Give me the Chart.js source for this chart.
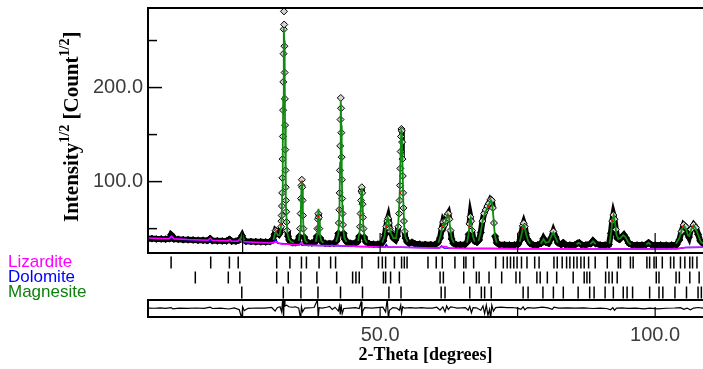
<!DOCTYPE html>
<html>
<head>
<meta charset="utf-8">
<script src="https://cdn.jsdelivr.net/npm/chart.js@4.4.1/dist/chart.umd.min.js"></script>
<style>
  body { margin:0; background:#fff; }
  #wrap { position:relative; width:703px; height:369px; overflow:hidden; background:#fff; }
  canvas { position:absolute; left:0; }
</style>
</head>
<body>
<div id="wrap">
  <canvas id="main" width="703" height="256" style="top:0px"></canvas>
  <canvas id="refl" width="703" height="47" style="top:253px"></canvas>
  <canvas id="diff" width="703" height="70" style="top:299px"></canvas>
</div>
<script>
// Rietveld plot: observed / calculated profiles, phase reflections, difference
const X_MIN = 7.8, X_MAX = 108.7;

// observed sqrt(intensity) [2theta, value]
const obsPoints = [
  [7.8,39.2],[8.5,39.4],[9.3,39],[10.2,39.1],[11,38.8],[11.7,39.3],[12,43.5],[12.2,42.5],[12.5,38.9],[13.3,38.6],
  [14.2,38.3],[15.1,38.2],[16,38],[16.9,37.6],[17.8,37.6],[18.6,37.3],[19.1,39.4],[19.5,37.2],[20.4,37],[21.3,36.8],
  [22.1,36.9],[22.6,38.6],[23,36.7],[23.8,36.7],[24.3,37.6],[24.6,39.2],[24.9,42.5],[25.2,38.3],[25.6,36.5],[26.5,36.3],
  [27.4,36.1],[28.3,36],[29.2,35.9],[30,36.2],[30.5,38.5],[30.8,44],[31,48],[31.2,47],[31.4,45],[31.6,44],[31.8,46],[32,52],
  [32.05,58],[32.1,64],[32.15,74],[32.2,88],[32.24,104],[32.28,124],[32.32,148],[32.36,176],[32.4,206],[32.44,236],
  [32.48,262],[32.52,281],[32.56,267],[32.6,244],[32.64,216],[32.68,188],[32.72,160],[32.76,134],[32.8,112],[32.84,94],
  [32.88,80],[32.93,68],[33,57],[33.1,48],[33.25,42],[33.45,38],[33.7,36],[34.1,35],[34.6,35],[35,36.5],[35.3,42],
  [35.45,50],[35.55,66],[35.62,82],[35.7,96],[35.77,102],[35.84,94],[35.9,80],[35.97,64],[36.05,50],[36.2,41],[36.5,36],
  [37,35],[37.6,34.8],[38.2,36],[38.5,42],[38.6,50],[38.7,60],[38.78,66],[38.86,62],[38.95,50],[39.1,40],[39.4,36],
  [40,34.5],[40.8,34.3],[41.6,34.5],[42.1,37],[42.4,45],[42.5,56],[42.58,70],[42.64,88],[42.7,112],[42.75,138],[42.8,166],
  [42.85,189],[42.9,178],[42.95,152],[43,126],[43.05,102],[43.1,82],[43.16,66],[43.24,54],[43.35,45],[43.55,39],[43.9,36],
  [44.6,34.5],[45.4,34.5],[45.9,36],[46.2,42],[46.35,52],[46.45,66],[46.53,80],[46.6,90],[46.67,94],[46.74,88],[46.8,76],
  [46.88,62],[46.97,50],[47.1,41],[47.4,36],[48,34],[48.8,33.5],[49.6,33.5],[50.2,34],[50.6,37],[50.9,44],[51.1,52],
  [51.3,58],[51.45,61],[51.6,56],[51.75,50],[51.9,47],[52.1,44],[52.4,40],[52.8,38],[53.1,42],[53.3,52],
  [53.45,66],[53.55,80],[53.62,96],[53.68,114],[53.74,132],[53.8,148],[53.87,156],[53.94,154],[54,142],[54.06,124],
  [54.12,106],[54.18,88],[54.25,72],[54.33,58],[54.45,47],[54.6,40],[54.9,36],[55.3,34.5],[55.8,35.5],[56.3,34],
  [57.2,33.5],[58.2,33.2],[59.2,33],[60,33.2],[60.5,35],[60.9,40],[61.2,50],[61.45,57],[61.7,54],[61.95,58],[62.2,64],
  [62.4,66],[62.6,60],[62.8,48],[63,39],[63.3,34.5],[63.8,33],[64.6,32.8],[65.4,33],[65.9,36],[66.1,44],[66.25,55],
  [66.4,62.5],[66.55,58],[66.7,48],[66.9,40],[67.2,36.5],[67.6,35.5],[68,38],[68.3,46],[68.6,58],[68.9,66],[69.2,70],
  [69.5,74],[69.8,77],[70.1,81],[70.3,80],[70.5,72],[70.7,56],[70.9,42],[71.2,35],[71.7,33],[72.6,32.8],[73.5,32.6],
  [74.4,32.6],[75.1,33.5],[75.5,38],[75.75,46],[75.95,53],[76.1,55.7],[76.3,52],[76.5,45],[76.75,39],[77,37],[77.3,34],
  [77.8,32.8],[78.6,32.6],[79.3,34.5],[79.7,39.5],[80.1,35.5],[80.6,34.5],[81.1,40],[81.5,47],[81.9,41],[82.3,35],
  [82.9,33],[83.3,35],[83.7,33],[84.5,32.5],[85.4,32.6],[85.9,34.5],[86.2,35],[86.6,33],[87.4,32.6],[88.3,34],[88.7,37],
  [89.2,34],[90,32.6],[90.9,32.5],[91.6,33],[91.95,45],[92.2,58],[92.4,64.5],[92.6,60],[92.85,49],[93.1,40],[93.5,38.5],
  [93.9,41],[94.3,43.5],[94.7,40],[95.2,34.5],[95.8,32.8],[96.7,32.5],[97.6,32.5],[98.3,33],[98.8,35],[99.3,33],[100,32.5],
  [101,32.5],[102,32.4],[103,32.5],[103.9,33],[104.4,38],[104.8,47],[105.2,54],[105.55,52],[105.9,44],[106.15,41],
  [106.5,49],[107,54],[107.4,51],[107.8,44],[108.2,37],[108.7,34]
];

// calculated Magnesite profile, only drawn where it shows above the data band (null = gap)
const calcPoints = [
  [24.5,37.5],[24.75,41],[24.9,43.5],[25.05,41],[25.3,37.5],[25.3,null],
  [30.6,38],[30.9,45],[31.1,46],[31.4,43],[31.7,43],[31.95,50],[32.1,62],[32.2,86],[32.3,135],[32.38,190],[32.45,240],
  [32.52,263],[32.58,250],[32.65,210],[32.72,160],[32.8,112],[32.88,80],[33,58],[33.15,45],[33.4,39],[33.8,36],[34.3,35],[34.3,null],
  [35.2,37],[35.45,48],[35.6,72],[35.7,94],[35.77,101],[35.85,92],[35.95,68],[36.1,46],[36.4,37],[36.8,35],[36.8,null],
  [38.3,36],[38.55,44],[38.7,60],[38.8,71],[38.9,58],[39.05,44],[39.3,37],[39.7,35],[39.7,null],
  [42,36],[42.4,44],[42.6,66],[42.72,120],[42.8,165],[42.87,186],[42.94,160],[43.02,115],[43.12,75],[43.25,52],[43.5,40],[43.9,36],[43.9,null],
  [46,37],[46.3,48],[46.5,75],[46.62,92],[46.7,93],[46.8,78],[46.95,52],[47.2,39],[47.6,35],[47.6,null],
  [50.4,35],[50.8,42],[51.1,54],[51.35,62],[51.5,60],[51.7,50],[52,45],[52.4,40],[52.9,40],[53.3,55],[53.55,85],[53.72,130],
  [53.85,154],[53.95,152],[54.08,115],[54.22,78],[54.38,52],[54.6,41],[55,36],[55,null],
  [60.6,35],[61,43],[61.3,52],[61.5,55],[61.7,53],[62,59],[62.3,65],[62.5,63],[62.75,50],[63,40],[63.4,35],[63.4,null],
  [65.8,35],[66.1,45],[66.3,58],[66.45,61],[66.6,55],[66.85,42],[67.2,36],[67.2,null],
  [67.9,37],[68.3,47],[68.7,60],[69.1,67],[69.5,72],[69.9,77],[70.15,80],[70.35,78],[70.6,62],[70.85,43],[71.2,35],[71.2,null],
  [75.4,36],[75.8,46],[76.05,54],[76.25,53],[76.55,44],[76.9,37],[77.3,34],[77.3,null],
  [79.2,34],[79.7,39],[80.1,35],[80.7,36],[81.2,43],[81.5,46],[81.85,41],[82.3,35],[82.3,null],
  [85.7,33.5],[86.1,35],[86.5,33.5],[86.5,null],[88.2,33.5],[88.7,36.5],[89.2,33.5],[89.2,null],
  [91.7,34],[92,46],[92.25,60],[92.45,64],[92.7,56],[92.95,44],[93.3,39],[93.7,40],[94.2,43],[94.6,41],[95.1,35.5],[95.6,33],[95.6,null],
  [98.4,33],[98.8,35],[99.2,33],[99.2,null],
  [103.8,34],[104.4,40],[104.9,50],[105.25,53],[105.6,50],[105.95,43],[106.2,42],[106.6,50],[107,53.5],[107.4,50],
  [107.9,42],[108.3,36],[108.7,34]
];

// Lizardite profile (magenta) incl. background
const lizPoints = [
  [7.8,40],[10,39.6],[11.7,39.4],[12.1,42],[12.5,39.2],[15,38.4],[18.7,37.7],[19.1,39.8],[19.5,37.6],[22.4,37],[22.7,38.5],
  [23,36.9],[24.1,36.6],[24.5,38.8],[24.9,36.4],[27,35.6],[30,34.8],[31.2,35.8],[32,33.6],[35.3,32.8],[35.7,35],[36.1,32.6],
  [38.5,32.2],[42,31.8],[42.3,33],[42.6,31.7],[46,31.2],[50,30.6],[54,30.2],[58,29.6],[60.8,29.5],[61.3,31],[62,31],
  [62.6,29.2],[66,29],[70,28.8],[75,28.6],[80,28.5],[85,28.5],[90,28.4],[95,28.4],[100,28.4],[104,28.5],[105.5,30],[108.7,30.2]
];

// Dolomite profile (blue) incl. background
const dolPoints = [
  [7.8,39.6],[11.5,39.2],[11.9,41.5],[12.2,39],[21.8,36.8],[22.3,38.5],[22.7,36.6],[24.3,36.3],[24.5,37.5],[24.8,36],
  [30.6,34.8],[31,38.5],[31.4,34.5],[35.3,32.6],[35.5,34.5],[35.8,32.4],[41,31.8],[41.2,33],[41.5,31.7],[44.9,31.2],
  [45.2,32.8],[45.5,31.1],[50.9,30.6],[51.1,33],[51.4,30.5],[60.8,29.5],[61.2,31.5],[61.6,29.3],[66,29],[70,28.8],
  [75,28.6],[80,28.5],[90,28.4],[100,28.4],[104,28.5],[105.5,30],[108.7,30.2]
];

// small red markers on the peak flanks
const redPoints = [
  [31.1,47],[32,55],[35.8,100],[38.75,63],[42.6,70],[46.45,64],[51.2,52],[53.6,88],[61.3,52],[62.3,64],
  [66.2,52],[69.7,73],[75.9,50],[92.2,58],[105,52],[106.9,52]
];

// difference curve [2theta, obs-calc]
const residPoints = [
  [7.8,0.5],[9,0.3],[10,0.8],[11,0.2],[12,1],[12.3,-0.5],[13.5,0.4],[15,0.2],[16.5,0.6],[18,0.1],[19.1,1.5],[19.5,0],
  [21,0.4],[22.5,-0.6],[23.5,0.8],[24.4,-1.5],[24.85,-12],[25,2],[25.3,-2.5],[26,0.2],[27.5,0.6],[29,0.4],[30.3,1.2],
  [30.9,-3],[31.3,1],[31.8,2],[32.1,-4],[32.3,12],[32.45,-12],[32.55,12],[32.7,3],[33,4],[33.4,2],[34,1.5],[34.6,2],
  [35.2,0.5],[35.55,-12],[35.7,2],[35.9,-4],[36.3,0.5],[37,0.8],[38,1.2],[38.6,10],[38.75,-12],[38.9,1],[39.5,0.5],
  [40.3,1.5],[40.8,2.5],[41.3,-1],[41.8,1.5],[42.4,-3],[42.6,3],[42.75,-7],[42.9,5],[43.1,-6],[43.4,0],[44.5,0.5],
  [45.5,1],[46.2,0],[46.55,8],[46.7,-12],[46.85,-3],[47.2,1],[48.5,0.5],[49.5,1],[50.5,1.5],[51,-4],[51.3,12],[51.5,-12],
  [51.7,-2],[52.3,1],[53,0.5],[53.5,-2],[53.75,4],[53.9,-6],[54.1,2],[54.4,0.5],[55.5,1],[56.5,0.5],[57.5,1],[58.5,0.5],
  [59.5,0.5],[60.3,1.5],[60.9,-2],[61.4,2],[61.8,-4],[62.1,3],[62.4,-1],[62.8,2],[63.3,1.5],[64,0.5],[65.5,1],[66,-2],
  [66.3,2.5],[66.6,-5],[66.9,1],[67.5,0.8],[68.3,-2],[68.7,3],[69,-6],[69.3,4],[69.6,-8],[69.9,-1],[70.1,-12],[70.3,4],
  [70.6,-3],[71,1],[72,1.5],[73,1],[74,1.2],[75,0.5],[75.6,-1],[76,2],[76.3,-1.5],[76.8,1],[78,0.5],[79.5,1.5],[80.5,0.8],
  [81.3,-1],[81.6,1.5],[82.5,0.5],[84,0.8],[85.5,0.5],[87,0.8],[88.7,0],[90,0.5],[91.2,0],[91.9,-1.5],[92.3,1],[92.6,-2],
  [93,0.5],[94,0.8],[95,0.2],[96.5,0.5],[98,-0.5],[99,0.5],[100.5,-0.5],[102,0.3],[103.5,0.6],[104.6,1],[105.2,-1],
  [105.8,0.5],[106.4,-1.5],[107,0.5],[107.8,1.2],[108.7,0.5]
];

// reflection positions (2theta) per phase
const lizardRefl = [12.0,19.2,22.6,24.2,31.2,33.6,35.7,36.6,38.9,41.0,41.9,46.7,49.7,50.4,51.0,52.6,53.9,54.4,54.9,
  58.7,60.2,61.3,63.6,65.2,65.6,67.0,71.0,72.4,73.1,73.7,74.3,74.9,75.7,76.7,78.1,78.9,81.6,82.2,83.1,83.9,84.5,85.2,
  85.8,86.5,87.1,87.9,89.1,91.3,93.3,93.7,95.5,96.0,98.5,99.0,99.8,100.2,101.3,102.8,103.4,104.6,105.4,106.3,106.8,107.6];
const dolomiteRefl = [16.4,22.4,24.5,31.2,33.3,35.6,38.5,42.1,45.0,45.6,46.2,50.6,51.0,51.9,53.5,60.9,61.5,65.2,67.5,
  68.0,69.8,72.1,74.7,75.4,78.5,79.1,80.4,82.1,85.1,87.1,87.6,88.1,91.0,91.6,92.2,93.1,100.2,100.7,103.8,104.4,106.3,108.0];
const magnesiteRefl = [24.85,32.4,35.6,38.7,42.8,46.8,51.6,53.8,61.1,61.8,66.3,68.4,69.0,70.2,76.0,76.9,79.6,81.5,83.3,
  86.0,88.1,88.9,90.9,92.4,94.2,94.9,95.9,99.0,100.7,101.4,103.6,105.7,107.8,108.4];

const phaseNames = ['Lizardite', 'Dolomite', 'Magnesite'];
const phaseColors = ['#ff00ff', '#0000ff', '#0d800d'];

const yMajorTicks = [100, 200];
const yMinorTicks = [50, 150, 250];
const xTicks = [25, 50, 75, 100];
const xLabelTicks = [50, 100];

const toXY = arr => arr.map(p => ({ x: p[0], y: p[1] }));
const noUI = { legend: { display: false }, tooltip: { enabled: false } };

function seg(ctx, x0, y0, x1, y1){ ctx.beginPath(); ctx.moveTo(x0, y0); ctx.lineTo(x1, y1); ctx.stroke(); }
// label half-heights must not shrink the plot area
function noPad(s){ s.paddingTop = 0; s.paddingBottom = 0; }

// ---------- main profile ----------
const mainDecor = {
  id: 'mainDecor',
  afterDatasetsDraw(chart){
    const { ctx, chartArea: a, scales: { x, y } } = chart;
    ctx.save();
    ctx.strokeStyle = '#000';
    ctx.lineWidth = 1.5;
    yMajorTicks.forEach(v => { const py = y.getPixelForValue(v); seg(ctx, a.left, py, a.left + 14, py); });
    yMinorTicks.forEach(v => { const py = y.getPixelForValue(v); seg(ctx, a.left, py, a.left + 9, py); });
    ctx.lineWidth = 1.2;
    xTicks.forEach(v => { const px = x.getPixelForValue(v); seg(ctx, px, a.bottom, px, a.bottom - 20); });
    ctx.lineWidth = 2;
    ctx.beginPath();
    ctx.moveTo(a.right + 2, a.top); ctx.lineTo(a.left, a.top); ctx.lineTo(a.left, a.bottom); ctx.lineTo(a.right + 2, a.bottom);
    ctx.stroke();

    // y axis title with superscripts
    const parts = [['Intensity', false], ['1/2', true], [' [Count', false], ['1/2', true], [']', false]];
    ctx.translate(78, 222);
    ctx.rotate(-Math.PI / 2);
    ctx.fillStyle = '#000';
    ctx.textBaseline = 'alphabetic';
    let cx = 0;
    parts.forEach(([t, sup]) => {
      ctx.font = sup ? 'bold 14px "Liberation Serif"' : 'bold 21px "Liberation Serif"';
      ctx.fillText(t, cx, sup ? -9 : 0);
      cx += ctx.measureText(t).width;
    });
    ctx.restore();
  }
};

new Chart(document.getElementById('main'), {
  type: 'line',
  data: {
    datasets: [
      { // observed: thick band where flat, open diamonds on steep flanks
        data: toXY(obsPoints), order: 4,
        borderColor: '#000', borderWidth: 6,
        segment: {
          borderColor: c => {
            const dx = Math.abs(c.p1.x - c.p0.x), dy = Math.abs(c.p1.y - c.p0.y);
            return dy > 9 * Math.max(dx, 0.6) ? 'rgba(0,0,0,0)' : '#000';
          }
        },
        pointStyle: 'rectRot', pointRadius: 3.5, pointBorderWidth: 1, pointBorderColor: '#000',
        pointBackgroundColor: c => (c.raw && c.raw.y > 46 ? '#d4d4d4' : '#000')
      },
      { data: toXY(dolPoints), order: 3, borderColor: '#0000ff', borderWidth: 1.5, pointRadius: 0 },
      { data: toXY(lizPoints), order: 2, borderColor: '#ff00ff', borderWidth: 1.5, pointRadius: 0 },
      { data: toXY(calcPoints), order: 1, borderColor: '#118a11', borderWidth: 1.8, pointRadius: 0, spanGaps: false },
      { data: toXY(redPoints), order: 0, showLine: false, pointStyle: 'rect', pointRadius: 1.3,
        pointBorderWidth: 0, pointBackgroundColor: '#ff0000' }
    ]
  },
  options: {
    responsive: false, animation: false, events: [], devicePixelRatio: 1,
    layout: { autoPadding: false, padding: { top: 8, bottom: 3, left: 0, right: 0 } },
    plugins: noUI,
    scales: {
      x: { type: 'linear', min: X_MIN, max: X_MAX, display: false },
      y: {
        type: 'linear', min: 24.1, max: 284.6,
        afterBuildTicks: s => { s.ticks = yMajorTicks.map(v => ({ value: v })); },
        afterFit: s => { s.width = 148; noPad(s); },
        grid: { display: false, drawTicks: false }, border: { display: false },
        ticks: { callback: v => v.toFixed(1), padding: 5, color: '#3c3c3c',
                 font: { family: 'Liberation Sans', size: 20 } }
      }
    }
  },
  plugins: [mainDecor]
});

// ---------- reflection markers ----------
const reflSets = [lizardRefl, dolomiteRefl, magnesiteRefl];
new Chart(document.getElementById('refl'), {
  type: 'scatter',
  data: {
    datasets: reflSets.map((arr, i) => ({
      data: arr.map(t => ({ x: t, y: i + 1 })),
      pointStyle: 'line', pointRotation: 90, pointRadius: 6,
      pointBorderColor: '#000', pointBorderWidth: 1.5
    }))
  },
  options: {
    responsive: false, animation: false, events: [], devicePixelRatio: 1,
    layout: { autoPadding: false, padding: { top: 2, bottom: 0, left: 8, right: 0 } },
    plugins: noUI,
    scales: {
      x: { type: 'linear', min: X_MIN, max: X_MAX, display: false },
      y: {
        type: 'linear', min: 0.5, max: 3.5, reverse: true,
        afterBuildTicks: s => { s.ticks = [1, 2, 3].map(v => ({ value: v })); },
        afterFit: s => { s.width = 140; noPad(s); },
        grid: { display: false, drawTicks: false }, border: { display: false },
        ticks: {
          crossAlign: 'far', padding: 0, autoSkip: false,
          callback: v => phaseNames[v - 1],
          color: c => phaseColors[c.tick.value - 1],
          font: { family: 'Liberation Sans', size: 17 }
        }
      }
    }
  }
});

// ---------- difference panel + 2theta axis ----------
const diffDecor = {
  id: 'diffDecor',
  afterDatasetsDraw(chart){
    const { ctx, chartArea: a, scales: { x } } = chart;
    ctx.save();
    ctx.strokeStyle = '#000';
    ctx.lineWidth = 1.2;
    xTicks.forEach(v => { const px = x.getPixelForValue(v); seg(ctx, px, a.bottom, px, a.bottom - 10); });
    ctx.lineWidth = 2;
    ctx.beginPath();
    ctx.moveTo(a.right + 2, a.top); ctx.lineTo(a.left, a.top); ctx.lineTo(a.left, a.bottom); ctx.lineTo(a.right + 2, a.bottom);
    ctx.stroke();
    ctx.restore();
  }
};

new Chart(document.getElementById('diff'), {
  type: 'line',
  data: { datasets: [{ data: toXY(residPoints), borderColor: '#000', borderWidth: 1.2, pointRadius: 0 }] },
  options: {
    responsive: false, animation: false, events: [], devicePixelRatio: 1,
    layout: { autoPadding: false, padding: { top: 1, bottom: 0, left: 0, right: 0 } },
    plugins: noUI,
    scales: {
      x: {
        type: 'linear', min: X_MIN, max: X_MAX,
        afterBuildTicks: s => { s.ticks = xLabelTicks.map(v => ({ value: v })); },
        afterFit: s => { s.height = 52; s.paddingLeft = 0; s.paddingRight = 0; },
        grid: { display: false, drawTicks: false }, border: { display: false },
        ticks: { callback: v => v.toFixed(1), padding: 6, maxRotation: 0, color: '#3c3c3c',
                 font: { family: 'Liberation Sans', size: 20 } },
        title: { display: true, text: '2-Theta [degrees]', color: '#000',
                 font: { family: 'Liberation Serif', size: 18, weight: 'bold' }, padding: { top: 0, bottom: 3 } }
      },
      y: {
        type: 'linear', min: -10, max: 10,
        afterFit: s => { s.width = 148; },
        grid: { display: false, drawTicks: false }, border: { display: false },
        ticks: { display: false }
      }
    }
  },
  plugins: [diffDecor]
});
</script>
</body>
</html>
